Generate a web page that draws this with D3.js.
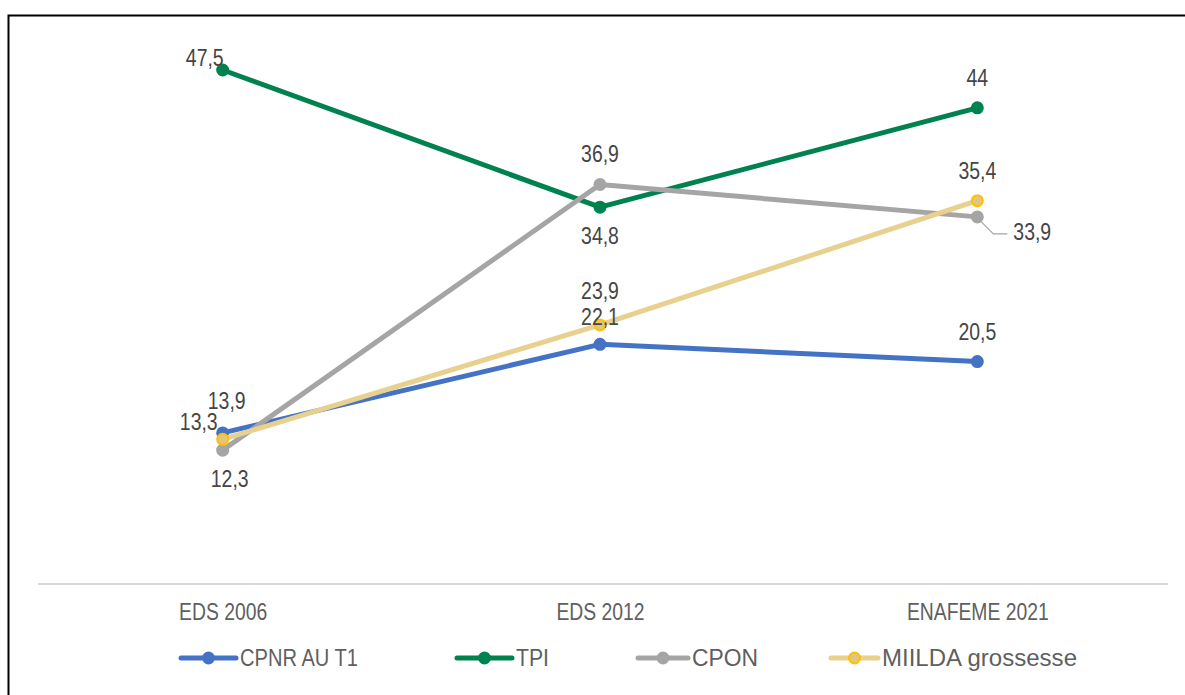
<!DOCTYPE html>
<html>
<head>
<meta charset="utf-8">
<script src="https://cdn.jsdelivr.net/npm/d3@7"></script>
<style>
  html, body { margin: 0; padding: 0; background: #fff; }
  svg { display: block; }
  text { font-family: "Liberation Sans", Arial, sans-serif; }
</style>
</head>
<body>
<svg id="chart" width="1185" height="695"></svg>
<script>
// Survey rounds on the x axis
const categories = ["EDS 2006", "EDS 2012", "ENAFEME 2021"];

// Indicator values (%) per survey
const cpnrValues = [13.9, 22.1, 20.5];
const tpiValues = [47.5, 34.8, 44];
const cponValues = [12.3, 36.9, 33.9];
const miildaValues = [13.3, 23.9, 35.4];

const seriesNames = ["CPNR AU T1", "TPI", "CPON", "MIILDA grossesse"];

const series = [
  { name: seriesNames[0], values: cpnrValues, color: "#4472C4", mFill: "#4472C4", mStroke: "#4472C4",
    labelPos: ["upR", "up19", "up"] },
  { name: seriesNames[1], values: tpiValues, color: "#00824F", mFill: "#00824F", mStroke: "#00824F",
    labelPos: ["left", "down", "up"] },
  { name: seriesNames[2], values: cponValues, color: "#A5A5A5", mFill: "#A5A5A5", mStroke: "#A5A5A5",
    labelPos: ["downR", "up", "leader"] },
  { name: seriesNames[3], values: miildaValues, color: "#E8D08E", mFill: "#E3C57E", mStroke: "#FFC000",
    labelPos: ["leftLow", "up26", "up"] }
];

const svg = d3.select("#chart");
const fmt = v => String(v).replace(".", ",");

// Condensed-looking text: a regular face squeezed horizontally
function narrowText(parent, tx, ty, str, anchor, size, sx, fill) {
  return parent.append("text")
    .attr("transform", `translate(${tx},${ty}) scale(${sx},1)`)
    .attr("text-anchor", anchor)
    .attr("fill", fill)
    .style("font-size", size + "px")
    .text(str);
}

// Outer frame
svg.append("rect")
  .attr("x", 8.5).attr("y", 15.5)
  .attr("width", 1185).attr("height", 700)
  .attr("fill", "none").attr("stroke", "#000").attr("stroke-width", 2);

const plot = { left: 34, right: 1166, top: 43, bottom: 583 };

const x = d3.scalePoint()
  .domain(categories)
  .range([plot.left, plot.right])
  .padding(0.5);

const y = d3.scaleLinear()
  .domain([0, 50])
  .range([plot.bottom, plot.top]);

// Category axis
const xAxis = d3.axisBottom(x).tickSize(0).tickFormat(() => "");
const gx = svg.append("g")
  .attr("transform", `translate(0,${plot.bottom + 1})`)
  .call(xAxis);
gx.select(".domain")
  .attr("d", "M38,0H1168")
  .attr("stroke", "#D9D9D9").attr("stroke-width", 2);
gx.selectAll(".tick").each(function (d) {
  narrowText(d3.select(this), 0, 36, d, "middle", 24.5, 0.79, "#5f5f5f");
});

// Lines and markers
const line = d3.line()
  .x((d, i) => x(categories[i]))
  .y(d => y(d));

series.forEach(s => {
  const g = svg.append("g");
  g.append("path")
    .datum(s.values)
    .attr("d", line)
    .attr("fill", "none")
    .attr("stroke", s.color)
    .attr("stroke-width", 5)
    .attr("stroke-linejoin", "round")
    .attr("stroke-linecap", "round");
  g.selectAll("circle")
    .data(s.values)
    .join("circle")
    .attr("cx", (d, i) => x(categories[i]))
    .attr("cy", d => y(d))
    .attr("r", 5.5)
    .attr("fill", s.mFill)
    .attr("stroke", s.mStroke)
    .attr("stroke-width", 2);
});

// Data labels
const labelG = svg.append("g");

series.forEach(s => {
  s.values.forEach((v, i) => {
    const cx = x(categories[i]);
    const cy = y(v);
    const pos = s.labelPos[i];
    let tx = cx, ty = cy - 22, anchor = "middle";
    if (pos === "up") { ty = cy - 22; }
    else if (pos === "up19") { ty = cy - 19; }
    else if (pos === "up26") { ty = cy - 26; }
    else if (pos === "upR") { tx = cx + 4; ty = cy - 24; }
    else if (pos === "down") { ty = cy + 37; }
    else if (pos === "downR") { tx = cx + 7; ty = cy + 37; }
    else if (pos === "left") { tx = cx + 1; ty = cy - 4; anchor = "end"; }
    else if (pos === "leftLow") { tx = cx - 5; ty = cy - 9; anchor = "end"; }
    else if (pos === "leader") {
      tx = cx + 36; ty = cy + 23; anchor = "start";
      svg.append("path")
        .attr("d", `M${cx + 4},${cy + 5}L${cx + 16},${cy + 17}H${cx + 30}`)
        .attr("fill", "none")
        .attr("stroke", "#A5A5A5")
        .attr("stroke-width", 1.2);
    }
    narrowText(labelG, tx, ty, fmt(v), anchor, 24, 0.81, "#454545");
  });
});

// Legend
const legendItems = [
  { x: 181, textX: 240, w: 118 },
  { x: 457, textX: 516, w: 33 },
  { x: 638, textX: 692, w: 66 },
  { x: 831, textX: 882, w: 195 }
];
const legendY = 658;
const legend = svg.append("g");
series.forEach((s, i) => {
  const li = legendItems[i];
  const x1 = li.x, x2 = li.textX - 4;
  const mid = (x1 + x2) / 2;
  legend.append("line")
    .attr("x1", x1).attr("x2", x2)
    .attr("y1", legendY).attr("y2", legendY)
    .attr("stroke", s.color).attr("stroke-width", 5)
    .attr("stroke-linecap", "round");
  legend.append("circle")
    .attr("cx", mid).attr("cy", legendY).attr("r", 5.5)
    .attr("fill", s.mFill).attr("stroke", s.mStroke).attr("stroke-width", 2);
  legend.append("text")
    .attr("x", li.textX).attr("y", legendY + 8)
    .attr("fill", "#5f5f5f")
    .attr("textLength", li.w)
    .attr("lengthAdjust", "spacingAndGlyphs")
    .style("font-size", "24px")
    .text(s.name);
});
</script>
</body>
</html>
